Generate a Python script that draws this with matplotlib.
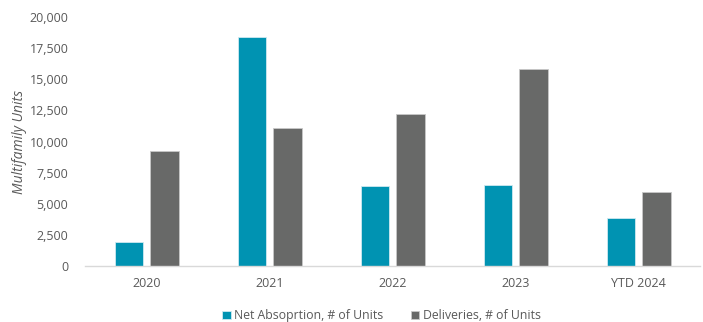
import matplotlib.pyplot as plt
import numpy as np
from matplotlib.ticker import FuncFormatter

plt.rcParams['font.family'] = ['Open Sans', 'DejaVu Sans']

categories = ['2020', '2021', '2022', '2023', 'YTD 2024']
net_absorption = [1930, 18420, 6400, 6480, 3830]
deliveries = [9210, 11060, 12230, 15800, 5920]

teal = '#0093B2'
gray = '#686968'
text_gray = '#595959'

x = np.arange(len(categories))
w = 0.23
off = 0.145

fig = plt.figure(figsize=(7.03, 3.22), dpi=100)
ax = fig.add_axes([0.121, 0.174, 0.875, 0.773])

ax.bar(x - off, net_absorption, w, color=teal, edgecolor='#cfe9f0', linewidth=0.6,
       label='Net Absoprtion, # of Units')
ax.bar(x + off, deliveries, w, color=gray, edgecolor='#c8c8c8', linewidth=0.6,
       label='Deliveries, # of Units')

ax.set_xlim(-0.5, len(categories) - 0.5)
ax.set_ylim(0, 20000)
ax.set_yticks(np.arange(0, 20001, 2500))
ax.yaxis.set_major_formatter(FuncFormatter(lambda v, p: f'{int(v):,}'))
ax.set_xticks(x)
ax.set_xticklabels(categories)

for s in ['top', 'right', 'left']:
    ax.spines[s].set_visible(False)
ax.spines['bottom'].set_color('#d9d9d9')
ax.spines['bottom'].set_linewidth(1.0)
ax.tick_params(axis='both', length=0, labelsize=9, labelcolor=text_gray)
ax.tick_params(axis='y', pad=12)
ax.tick_params(axis='x', pad=8)

ax.set_ylabel('Multifamily Units', fontsize=10, style='italic', color=text_gray, labelpad=2)

ax.legend(loc='upper center', bbox_to_anchor=(0.482, -0.13), ncol=2, frameon=False,
          fontsize=8.8, labelcolor=text_gray, handlelength=0.7, handleheight=0.7,
          handletextpad=0.3, columnspacing=2.2)

fig.savefig('out.png', dpi=100)
